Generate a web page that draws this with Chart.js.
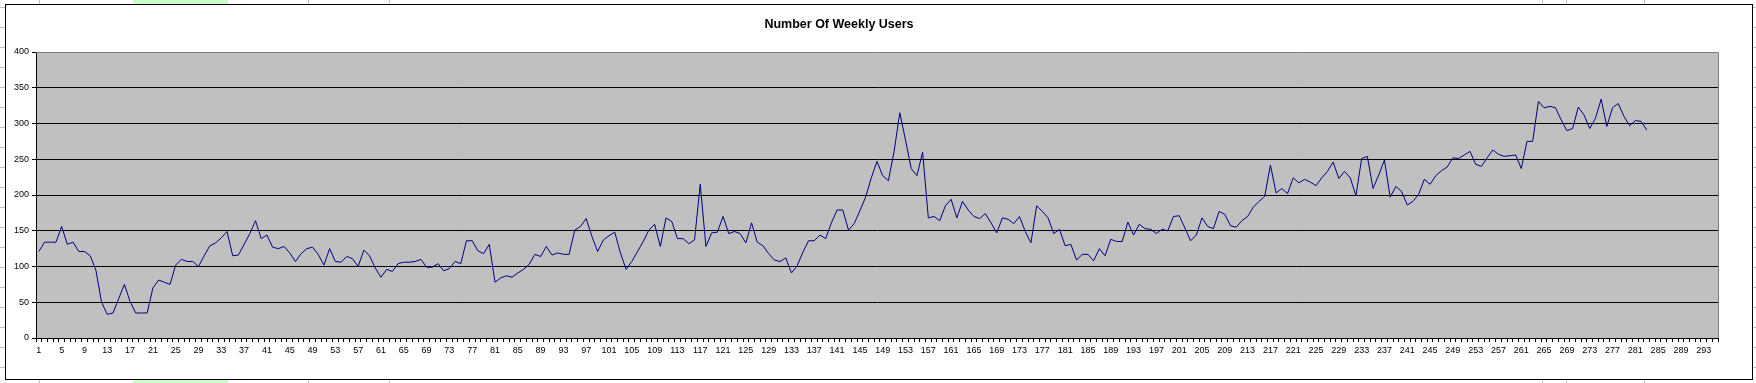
<!DOCTYPE html>
<html><head><meta charset="utf-8">
<script src="https://cdn.jsdelivr.net/npm/chart.js@4.4.1/dist/chart.umd.min.js"></script>
<style>
html,body{margin:0;padding:0;background:#fff;overflow:hidden;width:1756px;height:383px}
.h{position:absolute;left:0;width:1756px;height:1px;background:#c0c0c0}
.v{position:absolute;top:0;height:383px;width:1px;background:#c0c0c0}
#green{position:absolute;left:133px;top:0;width:95px;height:383px;background:#ccffcc}
#box{position:absolute;left:5px;top:4px;width:1746px;height:374px;border:1px solid #000;background:#fff}
canvas{position:absolute;left:0;top:0}
</style></head>
<body>
<div id="sheet"></div>
<div id="box"></div>
<canvas id="c" width="1756" height="383"></canvas>
<script>
const titleText = 'Number Of Weekly Users';

const categories = [
'1','2','3','4','5','6','7','8','9','10','11','12','13','14','15','16','17','18','19','20',
'21','22','23','24','25','26','27','28','29','30','31','32','33','34','35','36','37','38','39','40',
'41','42','43','44','45','46','47','48','49','50','51','52','53','54','55','56','57','58','59','60',
'61','62','63','64','65','66','67','68','69','70','71','72','73','74','75','76','77','78','79','80',
'81','82','83','84','85','86','87','88','89','90','91','92','93','94','95','96','97','98','99','100',
'101','102','103','104','105','106','107','108','109','110','111','112','113','114','115','116','117','118','119','120',
'121','122','123','124','125','126','127','128','129','130','131','132','133','134','135','136','137','138','139','140',
'141','142','143','144','145','146','147','148','149','150','151','152','153','154','155','156','157','158','159','160',
'161','162','163','164','165','166','167','168','169','170','171','172','173','174','175','176','177','178','179','180',
'181','182','183','184','185','186','187','188','189','190','191','192','193','194','195','196','197','198','199','200',
'201','202','203','204','205','206','207','208','209','210','211','212','213','214','215','216','217','218','219','220',
'221','222','223','224','225','226','227','228','229','230','231','232','233','234','235','236','237','238','239','240',
'241','242','243','244','245','246','247','248','249','250','251','252','253','254','255','256','257','258','259','260',
'261','262','263','264','265','266','267','268','269','270','271','272','273','274','275','276','277','278','279','280',
'281','282','283','284','285','286','287','288','289','290','291','292','293','294','295'
];

const weeklyUsers = [
121,134,134,134,156,131,134,121,121,115,
95,50,33,35,55,75,51,35,35,35,
70,81,78,75,102,110,107,107,100,115,
129,133,140,149,115,116,131,146,164,139,
144,127,125,128,119,107,118,125,127,117,
102,125,107,106,114,111,100,123,115,98,
85,96,93,104,106,106,107,110,99,99,
104,94,97,107,104,136,136,122,118,131,
78,84,87,85,91,96,103,117,114,128,
116,119,117,117,151,156,167,142,121,137,
143,148,119,96,107,121,135,151,159,128,
168,163,139,139,132,137,215,128,147,148,
170,146,149,146,133,161,134,129,118,109,
107,112,91,101,120,136,136,144,139,161,
179,179,151,160,178,197,224,247,227,220,
261,315,277,237,227,260,168,170,164,185,
194,168,191,179,170,167,174,161,147,168,
166,160,170,149,133,185,177,168,146,152,
129,131,109,117,117,108,125,115,138,135,
135,162,144,159,153,152,146,152,150,170,
171,154,136,144,168,156,153,177,173,157,
155,164,170,183,191,198,242,203,209,202,
224,217,222,218,213,224,233,246,223,233,
224,199,251,254,209,228,249,197,212,205,
186,191,201,222,215,227,234,239,252,251,
256,261,243,240,252,263,257,254,255,256,
237,275,275,331,322,324,322,305,290,293,
323,312,293,307,334,296,322,328,310,297,
304,303,291
];

const yTicks = [0,50,100,150,200,250,300,350,400];

// spreadsheet background lines (outside chart box)
(function(){
  const sheet = document.getElementById('sheet');
  const g = document.createElement('div'); g.id='green'; sheet.appendChild(g);
  for (let y = 7; y < 383; y += 20) { const d = document.createElement('div'); d.className='h'; d.style.top = y+'px'; sheet.appendChild(d); }
  [39,308,389,1542,1566,1644].forEach(x => { const d = document.createElement('div'); d.className='v'; d.style.left = x+'px'; sheet.appendChild(d); });
})();

const FONT = 'Liberation Sans, Arial, sans-serif';

const bgPlugin = {
  id: 'bg',
  beforeDraw(chart) {
    const {ctx, chartArea: a} = chart;
    ctx.save();
    ctx.fillStyle = '#c0c0c0';
    ctx.fillRect(a.left, a.top, a.right - a.left, a.bottom - a.top);
    ctx.restore();
  },
  afterDraw(chart) {
    const {ctx, chartArea: a} = chart;
    ctx.save();
    ctx.strokeStyle = '#808080';
    ctx.lineWidth = 1;
    ctx.beginPath();
    ctx.moveTo(a.left, Math.round(a.top) + 0.5);
    ctx.lineTo(Math.round(a.right) + 0.5, Math.round(a.top) + 0.5);
    ctx.lineTo(Math.round(a.right) + 0.5, a.bottom);
    ctx.stroke();
    ctx.fillStyle = '#000';
    ctx.font = 'bold 12.5px ' + FONT;
    ctx.textAlign = 'center';
    ctx.textBaseline = 'middle';
    ctx.fillText(titleText, 839, 25);
    ctx.restore();
  }
};

new Chart(document.getElementById('c'), {
  type: 'line',
  data: {
    labels: categories,
    datasets: [{
      label: titleText,
      data: weeklyUsers,
      borderColor: '#000080',
      borderWidth: 1,
      pointRadius: 0,
      pointHoverRadius: 0,
      tension: 0,
      fill: false
    }]
  },
  options: {
    responsive: false,
    animation: false,
    devicePixelRatio: 1,
    events: [],
    layout: { padding: { left: 0, top: 52, right: 38, bottom: 0 } },
    plugins: { legend: { display: false }, tooltip: { enabled: false }, title: { display: false } },
    scales: {
      x: {
        type: 'category',
        offset: true,
        grid: { offset: true, drawOnChartArea: false, drawTicks: true, tickLength: 4, color: '#000', tickColor: '#000', lineWidth: 1 },
        border: { color: '#000', width: 1 },
        ticks: {
          autoSkip: false, maxRotation: 0, minRotation: 0, padding: 3, color: '#000',
          font: { family: FONT, size: 9 },
          callback: function (v, i) { return i % 4 === 0 ? this.getLabelForValue(v) : ''; }
        },
        afterFit: s => { s.height = 45; }
      },
      y: {
        min: yTicks[0], max: yTicks[yTicks.length - 1],
        afterBuildTicks: s => { s.ticks = yTicks.map(v => ({ value: v })); },
        ticks: { padding: 3, color: '#000', font: { family: FONT, size: 9 } },
        grid: {
          color: c => (c.tick && c.tick.value === 400) ? 'rgba(0,0,0,0)' : '#000',
          tickColor: '#000', tickLength: 4, lineWidth: 1
        },
        border: { color: '#000', width: 1 },
        afterFit: s => { s.width = 36; }
      }
    }
  },
  plugins: [bgPlugin]
});
</script>
</body></html>
